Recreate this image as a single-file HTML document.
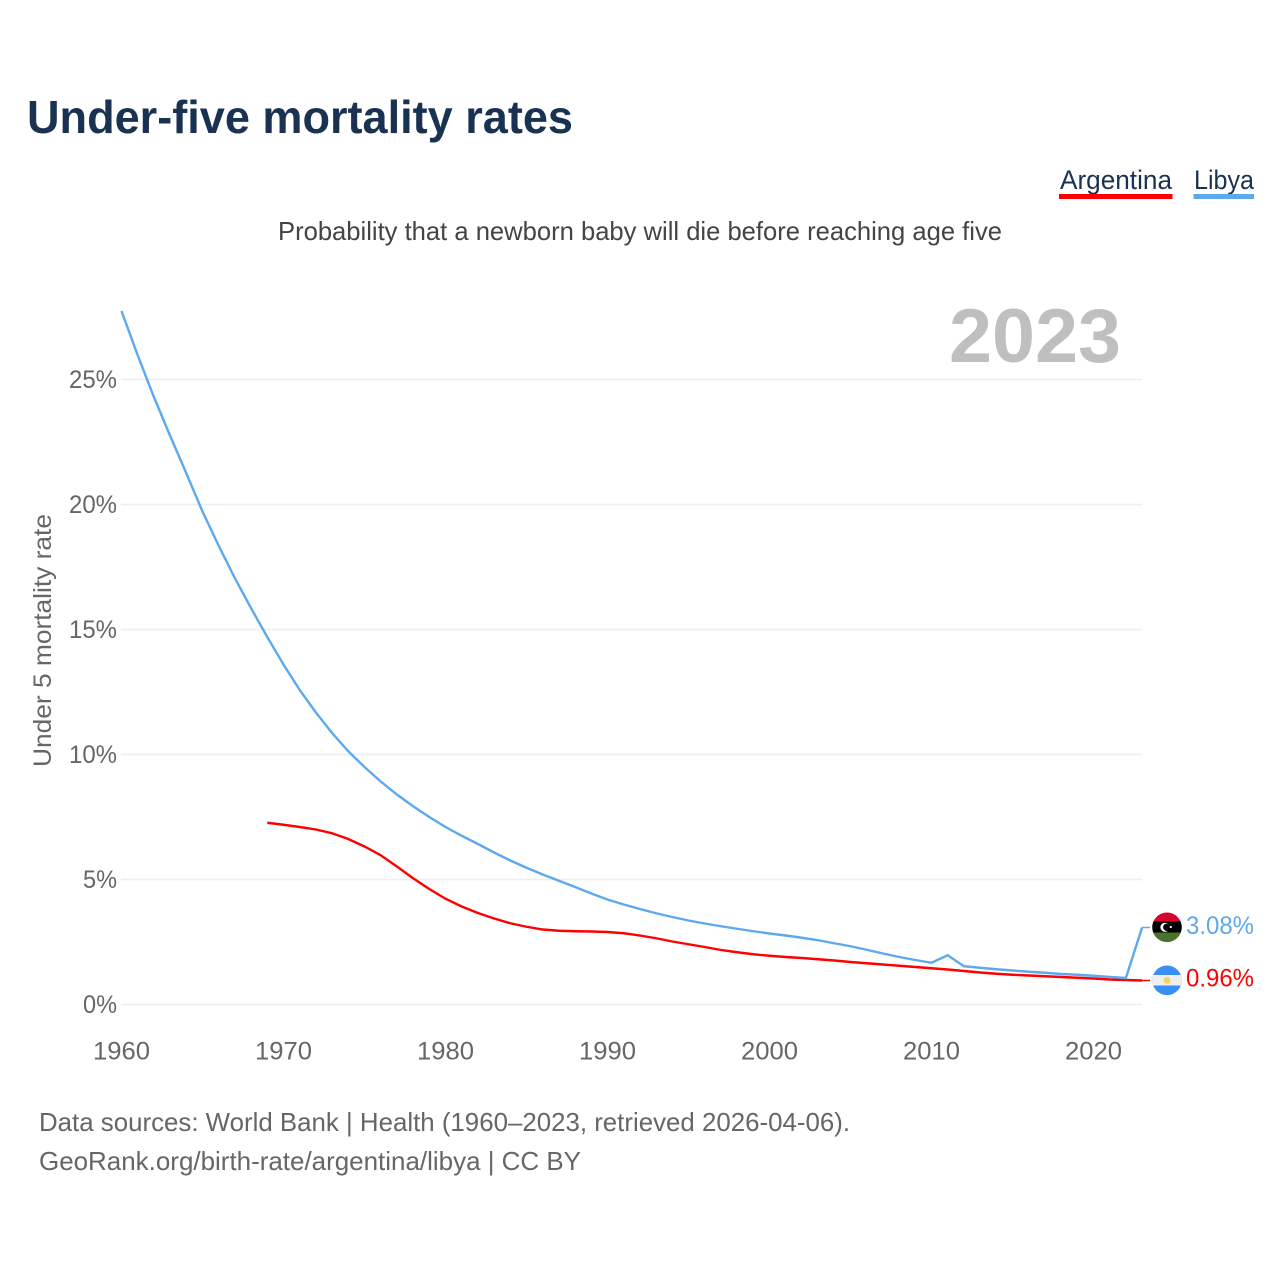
<!DOCTYPE html>
<html lang="en">
<head>
<meta charset="utf-8">
<title>Under-five mortality rates</title>
<style>
html,body{margin:0;padding:0;background:#fff;}
svg{display:block;}
text{font-family:"Liberation Sans",sans-serif;}
</style>
</head>
<body>
<svg id="chart" xmlns="http://www.w3.org/2000/svg" width="1280" height="1280" viewBox="0 0 1280 1280">
  <rect x="0" y="0" width="1280" height="1280" fill="#ffffff"/>
  <text x="27" y="133" font-size="46" font-weight="700" fill="#1a3252" textLength="546" lengthAdjust="spacingAndGlyphs">Under-five mortality rates</text>

  <g>
    <text x="1060" y="189" font-size="27" fill="#1a3252" textLength="112" lengthAdjust="spacingAndGlyphs">Argentina</text>
    <rect x="1059" y="194" width="113.500" height="5" fill="#ff0000"/>
  </g>
  <g>
    <text x="1194" y="189" font-size="27" fill="#1a3252" textLength="60" lengthAdjust="spacingAndGlyphs">Libya</text>
    <rect x="1193.500" y="194" width="60.500" height="5" fill="#5ea8ee"/>
  </g>

  <text x="278" y="240" font-size="26" fill="#444444" textLength="724" lengthAdjust="spacingAndGlyphs">Probability that a newborn baby will die before reaching age five</text>

  <g id="grid"></g>
  <g id="yticks"></g>
  <g id="xticks"></g>

  <text x="949" y="362" font-size="76" font-weight="700" fill="#bfbfbf" textLength="172" lengthAdjust="spacingAndGlyphs">2023</text>

  <text transform="translate(51 767) rotate(-90)" x="0" y="0" font-size="25" fill="#666666" textLength="253" lengthAdjust="spacingAndGlyphs">Under 5 mortality rate</text>

  <g id="series"></g>

  <defs>
    <clipPath id="flag-clip-ly"><circle cx="1167" cy="927.300" r="14.800"/></clipPath>
    <clipPath id="flag-clip-ar"><circle cx="1167" cy="980.300" r="14.800"/></clipPath>
  </defs>
  <g id="flag-libya" clip-path="url(#flag-clip-ly)">
    <rect x="1150" y="912" width="34" height="10" fill="#d7042d"/>
    <rect x="1150" y="921.500" width="34" height="11" fill="#000000"/>
    <rect x="1150" y="932.500" width="34" height="11" fill="#4b722c"/>
    <circle cx="1165" cy="927.300" r="4.600" fill="#ffffff"/>
    <circle cx="1166.800" cy="927.300" r="3.700" fill="#000000"/>
    <circle cx="1170.800" cy="927" r="1.100" fill="#ffffff"/>
  </g>
  <g id="flag-argentina" clip-path="url(#flag-clip-ar)">
    <rect x="1150" y="965" width="34" height="31" fill="#3a90f0"/>
    <rect x="1150" y="975" width="34" height="10.500" fill="#efefef"/>
    <circle cx="1167" cy="980.300" r="3.500" fill="#fcd15a"/>
  </g>

  <text x="39" y="1131" font-size="26" fill="#666666" textLength="811" lengthAdjust="spacingAndGlyphs">Data sources: World Bank | Health (1960–2023, retrieved 2026-04-06).</text>
  <text x="39" y="1170" font-size="26" fill="#666666" textLength="542" lengthAdjust="spacingAndGlyphs">GeoRank.org/birth-rate/argentina/libya | CC BY</text>
</svg>
<script>
const xTickYears = [1960, 1970, 1980, 1990, 2000, 2010, 2020];
const yTickValues = [0, 5, 10, 15, 20, 25];
const libyaStartYear = 1960;
const argentinaStartYear = 1969;
const libyaValues = [27.74, 25.97, 24.3, 22.75, 21.25, 19.72, 18.35, 17.05, 15.85, 14.7, 13.6, 12.58, 11.68, 10.86, 10.13, 9.5, 8.92, 8.4, 7.93, 7.5, 7.1, 6.75, 6.42, 6.08, 5.76, 5.47, 5.2, 4.95, 4.7, 4.44, 4.2, 4.0, 3.82, 3.65, 3.5, 3.36, 3.24, 3.13, 3.03, 2.93, 2.84, 2.76, 2.67, 2.57, 2.45, 2.33, 2.19, 2.04, 1.9, 1.78, 1.67, 1.97, 1.53, 1.47, 1.41, 1.36, 1.31, 1.27, 1.22, 1.19, 1.15, 1.1, 1.06, 3.08];
const argentinaValues = [7.27, 7.19, 7.1, 7.0, 6.85, 6.62, 6.32, 5.97, 5.52, 5.05, 4.62, 4.23, 3.92, 3.66, 3.44, 3.25, 3.11, 3.0, 2.95, 2.93, 2.92, 2.9, 2.85, 2.76, 2.65, 2.52, 2.41, 2.3, 2.18, 2.09, 2.01, 1.95, 1.9, 1.86, 1.81, 1.76, 1.7, 1.65, 1.6, 1.55, 1.5, 1.45, 1.4, 1.34, 1.28, 1.23, 1.19, 1.16, 1.13, 1.1, 1.07, 1.04, 1.0, 0.98, 0.96];

const NS = 'http://www.w3.org/2000/svg';
function xScale(year) { return 121.5 + (year - 1960) * 16.2; }
function yScale(value) { return 1004.5 - value * 25; }
function svgEl(tag, parent) {
  const el = document.createElementNS(NS, tag);
  parent.appendChild(el);
  return el;
}
const gridGroup = document.getElementById('grid');
const yTickGroup = document.getElementById('yticks');
const xTickGroup = document.getElementById('xticks');
const seriesGroup = document.getElementById('series');
const plotRight = xScale(2023);

yTickValues.forEach(function (v) {
  const line = svgEl('line', gridGroup);
  
  
  line.setAttribute('x1', xScale(1960) - 0.5);
  line.setAttribute('x2', plotRight);
  line.setAttribute('y1', yScale(v));
  line.setAttribute('y2', yScale(v));
  line.setAttribute('stroke', '#eeeeee');
  line.setAttribute('stroke-width', '1.5');

  const label = svgEl('text', yTickGroup);
  
  
  label.setAttribute('x', 117);
  label.setAttribute('y', yScale(v) + 8.5);
  label.setAttribute('text-anchor', 'end');
  label.setAttribute('font-size', '25');
  label.setAttribute('fill', '#666666');
  label.setAttribute('textLength', v === 0 ? 34 : (v === 5 ? 34 : 48));
  label.setAttribute('lengthAdjust', 'spacingAndGlyphs');
  label.textContent = v + '%';
});

xTickYears.forEach(function (year) {
  const label = svgEl('text', xTickGroup);
  
  
  label.setAttribute('x', xScale(year));
  label.setAttribute('y', 1059.5);
  label.setAttribute('text-anchor', 'middle');
  label.setAttribute('font-size', '25');
  label.setAttribute('fill', '#666666');
  label.setAttribute('textLength', 57);
  label.setAttribute('lengthAdjust', 'spacingAndGlyphs');
  label.textContent = String(year);
});

function pathFor(values, startYear) {
  return values.map(function (v, i) {
    return (i === 0 ? 'M' : 'L') + xScale(startYear + i).toFixed(2) + ' ' + yScale(v).toFixed(2);
  }).join(' ');
}

const argentinaLine = svgEl('path', seriesGroup);


argentinaLine.setAttribute('d', pathFor(argentinaValues, argentinaStartYear));
argentinaLine.setAttribute('fill', 'none');
argentinaLine.setAttribute('stroke', '#ff0000');
argentinaLine.setAttribute('stroke-width', '2.4');

const libyaLine = svgEl('path', seriesGroup);


libyaLine.setAttribute('d', pathFor(libyaValues, libyaStartYear));
libyaLine.setAttribute('fill', 'none');
libyaLine.setAttribute('stroke', '#5ea8ee');
libyaLine.setAttribute('stroke-width', '2.4');

const argentinaLast = argentinaValues[argentinaValues.length - 1];
const libyaLast = libyaValues[libyaValues.length - 1];

const argentinaStub = svgEl('line', seriesGroup);


argentinaStub.setAttribute('x1', plotRight);
argentinaStub.setAttribute('x2', 1150);
argentinaStub.setAttribute('y1', yScale(argentinaLast));
argentinaStub.setAttribute('y2', yScale(argentinaLast));
argentinaStub.setAttribute('stroke', '#ff0000');
argentinaStub.setAttribute('stroke-width', '1.5');

const libyaStub = svgEl('line', seriesGroup);


libyaStub.setAttribute('x1', plotRight);
libyaStub.setAttribute('x2', 1150);
libyaStub.setAttribute('y1', yScale(libyaLast));
libyaStub.setAttribute('y2', yScale(libyaLast));
libyaStub.setAttribute('stroke', '#5ea8ee');
libyaStub.setAttribute('stroke-width', '1.5');

const libyaLabel = svgEl('text', seriesGroup);


libyaLabel.setAttribute('x', 1186);
libyaLabel.setAttribute('y', 934);
libyaLabel.setAttribute('font-size', '25');
libyaLabel.setAttribute('fill', '#5ea8ee');
libyaLabel.setAttribute('textLength', 68);
libyaLabel.setAttribute('lengthAdjust', 'spacingAndGlyphs');
libyaLabel.textContent = libyaLast.toFixed(2) + '%';

const argentinaLabel = svgEl('text', seriesGroup);


argentinaLabel.setAttribute('x', 1186);
argentinaLabel.setAttribute('y', 986.5);
argentinaLabel.setAttribute('font-size', '25');
argentinaLabel.setAttribute('fill', '#ff0000');
argentinaLabel.setAttribute('textLength', 68);
argentinaLabel.setAttribute('lengthAdjust', 'spacingAndGlyphs');
argentinaLabel.textContent = argentinaLast.toFixed(2) + '%';
</script>
</body>
</html>
